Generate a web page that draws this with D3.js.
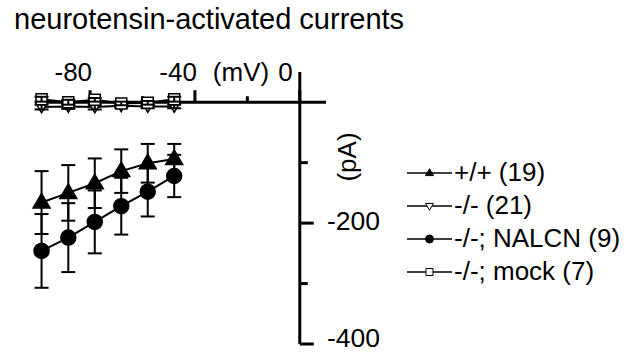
<!DOCTYPE html>
<html>
<head>
<meta charset="utf-8">
<script src="https://cdn.jsdelivr.net/npm/d3@7"></script>
<style>
  body { margin: 0; background: #fff; }
  svg { display: block; font-family: "Liberation Sans", Arial, sans-serif; }
</style>
</head>
<body>
<svg width="626" height="354"></svg>
<script>
// holding potentials (mV)
const voltages = [-98.5, -88.3, -78.2, -68.1, -58, -47.9];

// mean current (pA) and SEM per group
const wtMean = [-166, -150, -134, -114, -101, -94];
const wtSem = [52, 46, 41, 36, 32, 25];
const koMean = [-8, -7, -8, -6, -7, -7];
const koSem = [4, 4, 4, 3, 3, 3];
const nalcnMean = [-246, -224, -198, -172, -148, -122];
const nalcnSem = [61, 57, 52, 47, 41, 35];
const mockMean = [5, 0, 4, -2, -1, 5];
const mockSem = [4, 4, 3, 3, 3, 4];

const seriesNames = ["+/+ (19)", "-/- (21)", "-/-; NALCN (9)", "-/-; mock (7)"];
const xTicks = [-80, -40, 0];
const xMinorTicks = [-100, -60, -20];
const yTicks = [-200, -400];
const yMinorTicks = [-100, -300];

const svg = d3.select("svg");

const x = d3.scaleLinear().domain([-101, 10]).range([35, 326]);
const y = d3.scaleLinear().domain([50, -400]).range([72, 344]);

const series = [
    { name: seriesNames[0], mean: wtMean, sem: wtSem, shape: "triUp", fill: "#000", big: 1 },
    { name: seriesNames[1], mean: koMean, sem: koSem, shape: "triDown", fill: "#fff", big: 0 },
    { name: seriesNames[2], mean: nalcnMean, sem: nalcnSem, shape: "circle", fill: "#000", big: 1 },
    { name: seriesNames[3], mean: mockMean, sem: mockSem, shape: "square", fill: "#fff", big: 0 }
];

// marker path around 0,0 ; s = rough width
function marker(shape, s) {
    if (shape === "circle") return d3.symbol(d3.symbolCircle, Math.PI * s * s / 4)();
    if (shape === "square") {
        const h = s / 2;
        return `M${-h},${-h}H${h}V${h}H${-h}Z`;
    }
    const h = s * 0.85;
    if (shape === "triUp") return `M0,${-h * 0.62}L${s / 2},${h * 0.38}L${-s / 2},${h * 0.38}Z`;
    return `M0,${h * 0.62}L${s / 2},${-h * 0.38}L${-s / 2},${-h * 0.38}Z`;
}

svg.append("text")
    .attr("x", 14)
    .attr("y", 29)
    .attr("font-size", 29)
    .text("neurotensin-activated currents");

// axes
const axes = svg.append("g").attr("stroke", "#000").attr("stroke-width", 3);

axes.append("line")
    .attr("x1", x(-101)).attr("x2", x(10))
    .attr("y1", y(0)).attr("y2", y(0));
axes.append("line")
    .attr("x1", x(0)).attr("x2", x(0))
    .attr("y1", y(50)).attr("y2", y(-400));

axes.selectAll(".xt").data(xTicks).join("line")
    .attr("x1", d => x(d)).attr("x2", d => x(d))
    .attr("y1", y(0)).attr("y2", y(0) - 12);
axes.selectAll(".xm").data(xMinorTicks).join("line")
    .attr("x1", d => x(d)).attr("x2", d => x(d))
    .attr("y1", y(0)).attr("y2", y(0) - 6);
axes.selectAll(".yt").data(yTicks).join("line")
    .attr("x1", x(0)).attr("x2", x(0) + 14)
    .attr("y1", d => y(d)).attr("y2", d => y(d));
axes.selectAll(".ym").data(yMinorTicks).join("line")
    .attr("x1", x(0)).attr("x2", x(0) + 8)
    .attr("y1", d => y(d)).attr("y2", d => y(d));

svg.selectAll(".xl").data(xTicks).join("text")
    .attr("x", d => d === 0 ? x(d) - 7 : x(d) + 2)
    .attr("y", 81)
    .attr("text-anchor", "end")
    .attr("font-size", 26)
    .text(d => d);
svg.append("text")
    .attr("x", 241).attr("y", 81)
    .attr("text-anchor", "middle")
    .attr("font-size", 26)
    .text("(mV)");

// keep the bottom label inside the picture
svg.selectAll(".yl").data(yTicks).join("text")
    .attr("x", 327)
    .attr("y", d => Math.min(y(d) + 7, 347))
    .attr("font-size", 26.5)
    .text(d => d);
svg.append("text")
    .attr("transform", "translate(356,157) rotate(-90)")
    .attr("text-anchor", "middle")
    .attr("font-size", 26)
    .text("(pA)");

// data
const line = d3.line().x(d => x(d[0])).y(d => y(d[1]));
const plot = svg.append("g");

series.forEach(s => {
    const pts = voltages.map((v, i) => [v, s.mean[i], s.sem[i]]);
    const g = plot.append("g");
    g.append("path")
        .attr("d", line(pts))
        .attr("fill", "none")
        .attr("stroke", "#000")
        .attr("stroke-width", 2);
    g.selectAll(".m").data(pts).join("path")
        .attr("transform", d => `translate(${x(d[0])},${y(d[1])})`)
        .attr("d", marker(s.shape, s.big ? (s.shape === "circle" ? 15 : 17) : 11))
        .attr("fill", s.fill)
        .attr("stroke", "#000")
        .attr("stroke-width", 1.5);
    const eb = g.selectAll(".e").data(pts).join("g")
        .attr("stroke", "#000").attr("stroke-width", 2);
    eb.append("line")
        .attr("x1", d => x(d[0])).attr("x2", d => x(d[0]))
        .attr("y1", d => y(d[1] + d[2])).attr("y2", d => y(d[1] - d[2]));
    eb.append("line")
        .attr("x1", d => x(d[0]) - 7).attr("x2", d => x(d[0]) + 7)
        .attr("y1", d => y(d[1] + d[2])).attr("y2", d => y(d[1] + d[2]));
    eb.append("line")
        .attr("x1", d => x(d[0]) - 7).attr("x2", d => x(d[0]) + 7)
        .attr("y1", d => y(d[1] - d[2])).attr("y2", d => y(d[1] - d[2]));
});

// legend
const legend = svg.append("g");
series.forEach((s, i) => {
    const ly = 173 + i * 33;
    legend.append("line")
        .attr("x1", 407).attr("x2", 452)
        .attr("y1", ly).attr("y2", ly)
        .attr("stroke", "#000").attr("stroke-width", 1.5);
    legend.append("path")
        .attr("transform", `translate(429.5,${ly})`)
        .attr("d", marker(s.shape, s.shape === "square" ? 7 : 8))
        .attr("fill", s.fill)
        .attr("stroke", "#000")
        .attr("stroke-width", 1);
    legend.append("text")
        .attr("x", 454).attr("y", ly + 8)
        .attr("font-size", 26)
        .text(s.name);
});
</script>
</body>
</html>
